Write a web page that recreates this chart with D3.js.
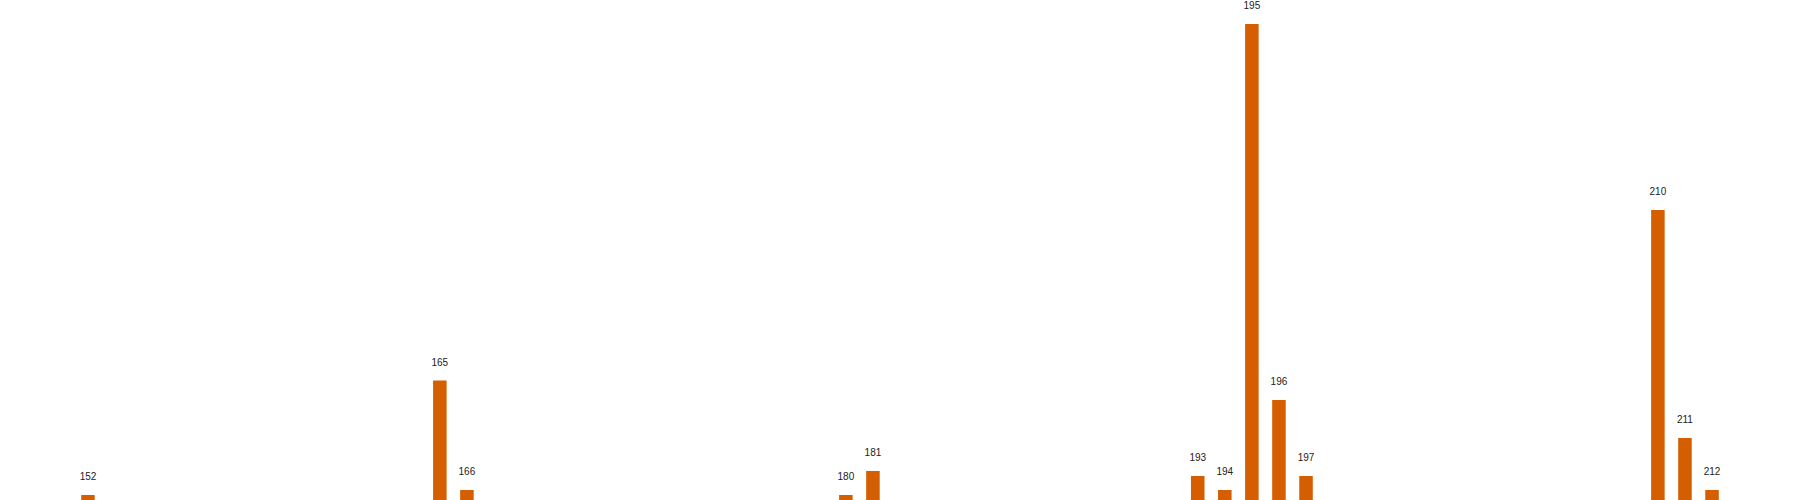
<!DOCTYPE html>
<html>
<head>
<meta charset="utf-8">
<script src="https://cdn.jsdelivr.net/npm/d3@7"></script>
<style>
  html, body { margin: 0; padding: 0; background: #fff; }
  svg { display: block; }
</style>
</head>
<body>
<div id="chart"></div>
<script>
// Categories shown with bars (others in the range are empty)
const categories = [152, 165, 166, 180, 181, 193, 194, 195, 196, 197, 210, 211, 212];
const values     = [1.0, 23.9, 2.0, 1.0, 5.8, 4.8, 2.0, 95.2, 20.0, 4.8, 58.0, 12.4, 2.0];
const domainStart = 152;
const domainEnd = 212;

const width = 1800, height = 500;
const svg = d3.select("#chart").append("svg")
  .attr("width", width).attr("height", height);

const x = d3.scaleBand()
  .domain(d3.range(domainStart, domainEnd + 1))
  .range([0, width])
  .paddingInner(0.5)
  .paddingOuter(3);

const y = d3.scaleLinear().domain([0, 100]).range([height, 0]);

const data = categories.map((c, i) => ({ c, v: values[i] }));

svg.selectAll("rect.bar").data(data).enter().append("rect")
  .attr("class", "bar")
  .attr("x", d => x(d.c))
  .attr("width", x.bandwidth())
  .attr("y", d => y(d.v))
  .attr("height", d => y(0) - y(d.v))
  .attr("fill", "#D55E00");

svg.selectAll("text.lbl").data(data).enter().append("text")
  .attr("class", "lbl")
  .attr("x", d => x(d.c) + x.bandwidth() / 2)
  .attr("y", d => y(d.v) - 15)
  .attr("text-anchor", "middle")
  .attr("font-family", "'Liberation Sans', Arial, sans-serif")
  .attr("font-size", 10)
  .attr("fill", "#222")
  .text(d => d.c);
</script>
</body>
</html>
